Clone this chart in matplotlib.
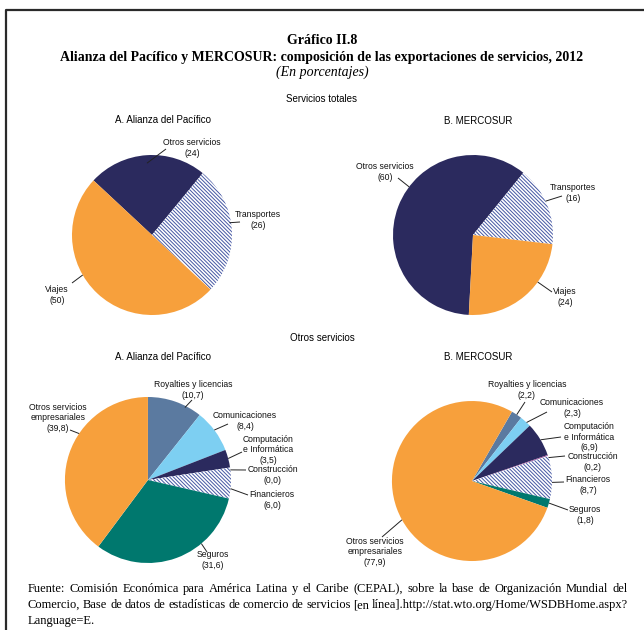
import matplotlib
matplotlib.use("Agg")

import matplotlib.pyplot as plt
from matplotlib.lines import Line2D
import numpy as np

# ── Data ────────────────────────────────────────────────────────────────────
TOT_CATS = ["Otros servicios", "Transportes", "Viajes"]
TOT_AP   = [24, 26, 50]
TOT_MS   = [60, 16, 24]

OTR_CATS = ["Royalties y licencias", "Comunicaciones", "Computación\ne Informática",
            "Construcción", "Financieros", "Seguros", "Otros servicios\nempresariales"]
OTR_AP   = [10.7, 8.4, 3.5, 0.0, 6.0, 31.6, 39.8]
OTR_MS   = [2.2, 2.3, 6.9, 0.2, 8.7, 1.8, 77.9]

TITLE    = "Gráfico II.8"
SUBTITLE = "Alianza del Pacífico y MERCOSUR: composición de las exportaciones de servicios, 2012"
UNITS    = "(En porcentajes)"
SOURCE = [
    "Fuente: Comisión Económica para América Latina y el Caribe (CEPAL), sobre la base de Organización Mundial del",
    "Comercio, Base de datos de estadísticas de comercio de servicios [en línea].http://stat.wto.org/Home/WSDBHome.aspx?",
    "Language=E.",
]

# ── Style ───────────────────────────────────────────────────────────────────
W, H = 644, 630
NAVY   = "#2B2A5E"
ORANGE = "#F7A03C"
HATCHC = "#4557A3"
STEEL  = "#5B7AA0"
SKY    = "#7DCFF2"
TEAL   = "#00786E"
MAGENTA = "#A0509A"

TOT_COLORS = [NAVY, "white", ORANGE]
TOT_HATCH  = [None, "\\" * 9, None]
OTR_COLORS = [STEEL, SKY, NAVY, MAGENTA, "white", TEAL, ORANGE]
OTR_HATCH  = [None, None, None, None, "\\" * 9, None, None]

SANS  = "Liberation Sans"
SERIF = "Liberation Serif"
plt.rcParams["hatch.linewidth"] = 0.7

fig = plt.figure(figsize=(W / 100, H / 100), dpi=100)
ax = fig.add_axes([0, 0, 1, 1])


def Y(y):
    return H - y


def draw_pie(values, cats, colors, hatches, center, r, start, explode_last,
             labels_pos, fmt):
    explode = [0] * (len(values) - 1) + [explode_last]
    wedges, _ = ax.pie(values, colors=colors, startangle=start, counterclock=False,
                       radius=r, center=(center[0], Y(center[1])), explode=explode,
                       wedgeprops=dict(linewidth=0))
    for w, h in zip(wedges, hatches):
        if h:
            w.set_hatch(h)
            w.set_edgecolor(HATCHC)
            w.set_linewidth(0)
    for i, (cat, v) in enumerate(zip(cats, values)):
        tx, ty, ang, rf, ex, ey = labels_pos[i]
        cx, cy = wedges[i].center
        a = np.deg2rad(ang)
        x0, y0 = cx + rf * r * np.cos(a), cy + rf * r * np.sin(a)
        ax.plot([x0, ex], [y0, Y(ey)], color="#222222", lw=0.7,
                solid_capstyle="butt")
        ax.text(tx, Y(ty), f"{cat}\n({fmt(v)})",
                ha="center", va="center", multialignment="center",
                fontsize=6.2, family=SANS, color="#111111", linespacing=1.15)


fmt_int = lambda v: f"{v:.0f}"
fmt_dec = lambda v: f"{v:.1f}".replace(".", ",")

# label layout, image px: (text x, text y, anchor angle, anchor radius
# fraction, leader end x, leader end y)
LAB_TOT_AP = [(192, 148, 94, 0.9, 166, 149), (258, 220, 9, 0.98, 240, 222),
              (57, 295, -150, 1.0, 72, 283)]
LAB_TOT_MS = [(385, 172, 143, 1.0, 398, 178), (573, 193, 25, 1.0, 562, 196),
              (565, 297, -36, 1.0, 552, 292)]
LAB_OTR_AP = [(193, 390, 63, 0.98, 192, 400), (245, 421, 37, 1.0, 228, 424),
              (268, 450, 15, 1.0, 242, 452), (273, 475, 7, 1.0, 246, 470),
              (272, 500, -6, 1.0, 248, 495), (213, 560, -50, 1.0, 207, 552),
              (58, 418, 146, 1.0, 70, 430)]
LAB_OTR_MS = [(527, 390, 56, 1.0, 525, 402), (572, 408, 47, 1.0, 547, 412),
              (589, 437, 31, 1.0, 561, 437), (593, 462, 17, 1.0, 565, 456),
              (588, 485, -1, 1.0, 564, 482), (585, 515, -16, 1.0, 568, 510),
              (375, 552, -151, 1.0, 382, 537)]

draw_pie(TOT_AP, TOT_CATS, TOT_COLORS, TOT_HATCH, (152, 235), 80, 137, 0, LAB_TOT_AP, fmt_int)
draw_pie(TOT_MS, TOT_CATS, TOT_COLORS, TOT_HATCH, (473, 235), 80, 267, 0, LAB_TOT_MS, fmt_int)
draw_pie(OTR_AP, OTR_CATS, OTR_COLORS, OTR_HATCH, (148, 480), 83, 90, 0.07, LAB_OTR_AP, fmt_dec)
draw_pie(OTR_MS, OTR_CATS, OTR_COLORS, OTR_HATCH, (472, 481), 80, 60, 0.06, LAB_OTR_MS, fmt_dec)

ax.set_xlim(0, W)
ax.set_ylim(0, H)
ax.set_aspect("auto")
ax.axis("off")

# ── Headings ────────────────────────────────────────────────────────────────
ax.text(322, Y(41), TITLE, ha="center", va="center", family=SERIF,
        fontweight="bold", fontsize=10)
ax.text(322, Y(57), SUBTITLE, ha="center", va="center", family=SERIF,
        fontweight="bold", fontsize=10)
ax.text(322, Y(72), UNITS, ha="center", va="center", family=SERIF,
        style="italic", fontsize=10)

ax.text(322, Y(99), "Servicios totales", ha="center", va="center", family=SANS, fontsize=7)
ax.text(163, Y(120), "A. Alianza del Pacífico", ha="center", va="center", family=SANS, fontsize=7)
ax.text(478, Y(121), "B. MERCOSUR", ha="center", va="center", family=SANS, fontsize=7)
ax.text(322, Y(338), "Otros servicios", ha="center", va="center", family=SANS, fontsize=7)
ax.text(163, Y(357), "A. Alianza del Pacífico", ha="center", va="center", family=SANS, fontsize=7)
ax.text(478, Y(357), "B. MERCOSUR", ha="center", va="center", family=SANS, fontsize=7)

# ── Source note, justified ──────────────────────────────────────────────────
renderer = fig.canvas.get_renderer()
X0, X1 = 28, 628
for i, (line, ly) in enumerate(zip(SOURCE, [589, 605, 621])):
    words = line.split(" ")
    kw = dict(family=SERIF, fontsize=9, va="center", ha="left")
    if i == len(SOURCE) - 1:
        ax.text(X0, Y(ly), line, **kw)
        continue
    widths = []
    for w in words:
        t = ax.text(0, 0, w, **kw)
        widths.append(t.get_window_extent(renderer).width)
        t.remove()
    gap = (X1 - X0 - sum(widths)) / (len(words) - 1)
    x = X0
    for w, wd in zip(words, widths):
        ax.text(x, Y(ly), w, **kw)
        x += wd + gap

# ── Frame ───────────────────────────────────────────────────────────────────
fig.add_artist(Line2D([6 / W, 6 / W, 1], [0, 1 - 10 / H, 1 - 10 / H],
                      transform=fig.transFigure, color="#2a2a2a", lw=1.6))

fig.savefig("out.png", dpi=100, facecolor="white")
